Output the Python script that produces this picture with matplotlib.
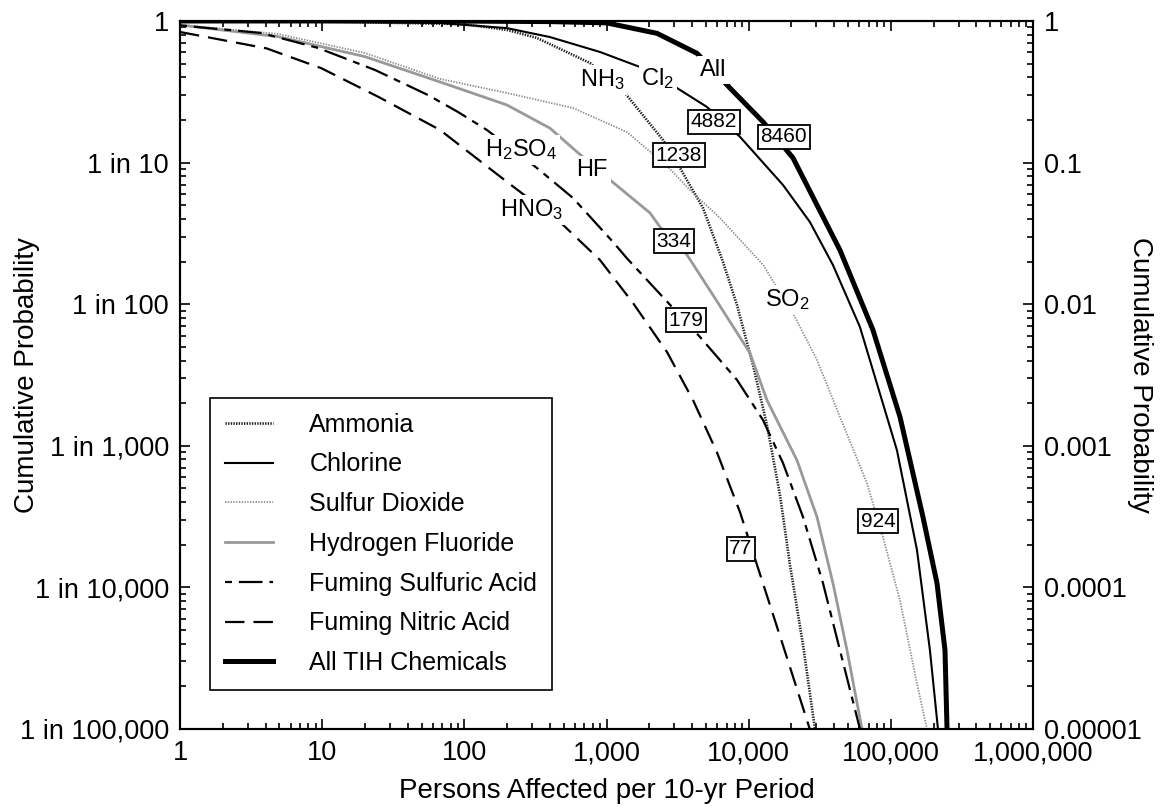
import matplotlib.pyplot as plt
from matplotlib.ticker import FixedLocator, LogLocator, NullFormatter

plt.rcParams['font.family'] = ['Liberation Sans', 'DejaVu Sans']
plt.rcParams['mathtext.default'] = 'regular'
plt.rcParams['lines.scale_dashes'] = False

# persons affected per 10-yr period vs cumulative probability
ammonia_x = [1, 10, 99.5, 200, 324, 765, 1349, 2495, 3288, 4772, 6596, 8275,
             10720, 13450, 16600, 19530, 24120, 29260]
ammonia_y = [1.0, 0.99, 0.95, 0.864, 0.759, 0.505, 0.31, 0.1445, 0.0916,
             0.0478, 0.0199, 0.00987, 0.00372, 0.0014, 4.5e-4, 1.44e-4,
             3.92e-5, 1e-5]

chlorine_x = [1, 10, 67, 200, 400, 900, 1721, 3133, 5090, 8690, 17430, 26980,
              39170, 60650, 110400, 152700, 188400, 214600]
chlorine_y = [1.0, 0.995, 0.968, 0.89, 0.77, 0.604, 0.473, 0.336, 0.247,
              0.152, 0.0695, 0.038, 0.0189, 0.0069, 9.3e-4, 1.84e-4, 3.6e-5,
              1e-5]

so2_x = [1, 4.89, 20, 67.4, 199.6, 581, 1394, 2665, 3866, 6285, 12680, 21180,
         30250, 43850, 67900, 88000, 116000, 152700, 179600]
so2_y = [0.94, 0.81, 0.594, 0.39, 0.31, 0.243, 0.164, 0.0946, 0.064, 0.0406,
         0.0189, 0.0081, 0.00404, 0.0016, 5.46e-4, 2.27e-4, 8.1e-5, 2.1e-5,
         1e-5]

hf_x = [1, 4.9, 20, 67.4, 199.6, 400, 620, 1058, 2023, 2379, 3683, 5610, 10210,
        13450, 21870, 30250, 39170, 49170, 62690]
hf_y = [0.937, 0.775, 0.56, 0.371, 0.255, 0.175, 0.119, 0.0754, 0.0441,
        0.0351, 0.0223, 0.0116, 0.00452, 0.0021, 7.9e-4, 3.14e-4, 1.07e-4,
        3.6e-5, 1e-5]

h2so4_x = [1, 3.71, 5.75, 9.35, 23.5, 55.5, 90, 144, 324, 581, 1111, 1385,
           2935, 4546, 8275, 12610, 17430, 24120, 33340, 43860, 60650]
h2so4_y = [0.93, 0.823, 0.734, 0.645, 0.451, 0.30, 0.228, 0.17, 0.0916,
           0.0562, 0.0275, 0.0212, 0.0094, 0.00587, 0.00292, 0.00152,
           7.56e-4, 3.14e-4, 1.07e-4, 3.6e-5, 1e-5]

hno3_x = [1, 4.05, 9.86, 24.7, 67.4, 199.6, 471, 900, 1535, 2665, 4060, 5980,
          8690, 11450, 17430, 26900]
hno3_y = [0.836, 0.641, 0.464, 0.292, 0.17, 0.073, 0.038, 0.0205, 0.0102,
          0.00459, 0.0021, 9.0e-4, 3.4e-4, 1.44e-4, 3.9e-5, 1e-5]

all_x = [1, 10, 100, 400, 1000, 2265, 4330, 7390, 12610, 20490, 43860, 74850,
         116000, 168300, 211300, 240500, 248500]
all_y = [1.0, 1.0, 0.998, 0.99, 0.97, 0.818, 0.591, 0.336, 0.194, 0.108,
         0.0241, 0.00657, 0.0016, 3.14e-4, 1.07e-4, 3.6e-5, 1e-5]

# curve names and boxed counts placed along the curves
curve_labels = ['NH$_3$', 'Cl$_2$', 'All', 'H$_2$SO$_4$', 'HF', 'HNO$_3$', 'SO$_2$']
curve_label_x = [930, 2300, 5610, 250, 791, 299, 18600]
curve_label_y = [0.383, 0.389, 0.45, 0.123, 0.0887, 0.0463, 0.0107]

box_labels = ['4882', '8460', '1238', '334', '179', '924', '77']
box_x = [5700, 17700, 3235, 2985, 3625, 81200, 8830]
box_y = [0.194, 0.152, 0.113, 0.0279, 0.00773, 2.94e-4, 1.87e-4]

x_ticks = [1, 10, 100, 1e3, 1e4, 1e5, 1e6]
x_ticklabels = ['1', '10', '100', '1,000', '10,000', '100,000', '1,000,000']
y_ticks = [1, 1e-1, 1e-2, 1e-3, 1e-4, 1e-5]
y_ticklabels_left = ['1', '1 in 10', '1 in 100', '1 in 1,000', '1 in 10,000',
                     '1 in 100,000']
y_ticklabels_right = ['1', '0.1', '0.01', '0.001', '0.0001', '0.00001']

fig = plt.figure(figsize=(11.6, 8.07), dpi=100)
ax = fig.add_axes([0.1552, 0.0967, 0.7353, 0.8773])

ax.plot(ammonia_x, ammonia_y, color='#202020', lw=1.9,
        linestyle=(0, (1.0, 0.9)), label='Ammonia')
ax.plot(chlorine_x, chlorine_y, color='black', lw=1.5, label='Chlorine')
ax.plot(so2_x, so2_y, color='#8c8c8c', lw=1.3,
        linestyle=(0, (1.0, 1.0)), label='Sulfur Dioxide')
ax.plot(hf_x, hf_y, color='#999999', lw=2.0, label='Hydrogen Fluoride')
ax.plot(h2so4_x, h2so4_y, color='black', lw=1.6,
        linestyle=(0, (5, 5, 17, 5)), label='Fuming Sulfuric Acid')
ax.plot(hno3_x, hno3_y, color='black', lw=1.6,
        linestyle=(0, (14, 6.5)), label='Fuming Nitric Acid')
ax.plot(all_x, all_y, color='black', lw=3.6, label='All TIH Chemicals')

for s, x, y in zip(curve_labels, curve_label_x, curve_label_y):
    ax.text(x, y, s, ha='center', va='center', fontsize=17, zorder=6,
            bbox=dict(boxstyle='square,pad=0.12', fc='white', ec='none'))

for s, x, y in zip(box_labels, box_x, box_y):
    ax.text(x, y, s, ha='center', va='center', fontsize=15, zorder=7,
            bbox=dict(boxstyle='square,pad=0.12', fc='white', ec='black', lw=1.3))

ax.set_xscale('log')
ax.set_yscale('log')
ax.set_xlim(1, 1e6)
ax.set_ylim(1e-5, 1)

ax.xaxis.set_major_locator(FixedLocator(x_ticks))
ax.set_xticklabels(x_ticklabels)
ax.xaxis.set_minor_locator(LogLocator(base=10, subs=range(2, 10), numticks=20))
ax.xaxis.set_minor_formatter(NullFormatter())
ax.yaxis.set_major_locator(FixedLocator(y_ticks))
ax.set_yticklabels(y_ticklabels_left)
ax.yaxis.set_minor_locator(LogLocator(base=10, subs=range(2, 10), numticks=20))
ax.yaxis.set_minor_formatter(NullFormatter())

ax.tick_params(which='both', direction='in', top=True, right=False, width=1.2)
ax.tick_params(which='major', length=7, labelsize=19.5, pad=8)
ax.tick_params(which='minor', length=4.5)

ax2 = ax.twinx()
ax2.set_yscale('log')
ax2.set_ylim(1e-5, 1)
ax2.yaxis.set_major_locator(FixedLocator(y_ticks))
ax2.set_yticklabels(y_ticklabels_right)
ax2.yaxis.set_minor_locator(LogLocator(base=10, subs=range(2, 10), numticks=20))
ax2.yaxis.set_minor_formatter(NullFormatter())
ax2.tick_params(which='both', direction='in', width=1.2)
ax2.tick_params(which='major', length=7, labelsize=19.5, pad=8)
ax2.tick_params(which='minor', length=4.5)

for a in (ax, ax2):
    for sp in a.spines.values():
        sp.set_linewidth(1.5)

ax.set_xlabel('Persons Affected per 10-yr Period', fontsize=20, va='center')
ax.xaxis.set_label_coords(0.5, -0.0876)
ax.set_ylabel('Cumulative Probability', fontsize=20, va='center')
ax.yaxis.set_label_coords(-0.179, 0.5)
ax2.set_ylabel('Cumulative Probability', fontsize=20, va='center', rotation=270)
ax2.yaxis.set_label_coords(1.1254, 0.5)

leg = ax.legend(loc='lower left', bbox_to_anchor=(0.035, 0.055), borderaxespad=0,
                fontsize=18, handlelength=1.93, handletextpad=1.45,
                labelspacing=0.63, borderpad=0.6, fancybox=False, framealpha=1,
                edgecolor='black')
leg.get_frame().set_linewidth(1.2)
leg.set_zorder(8)

fig.savefig('out.png', dpi=100)
